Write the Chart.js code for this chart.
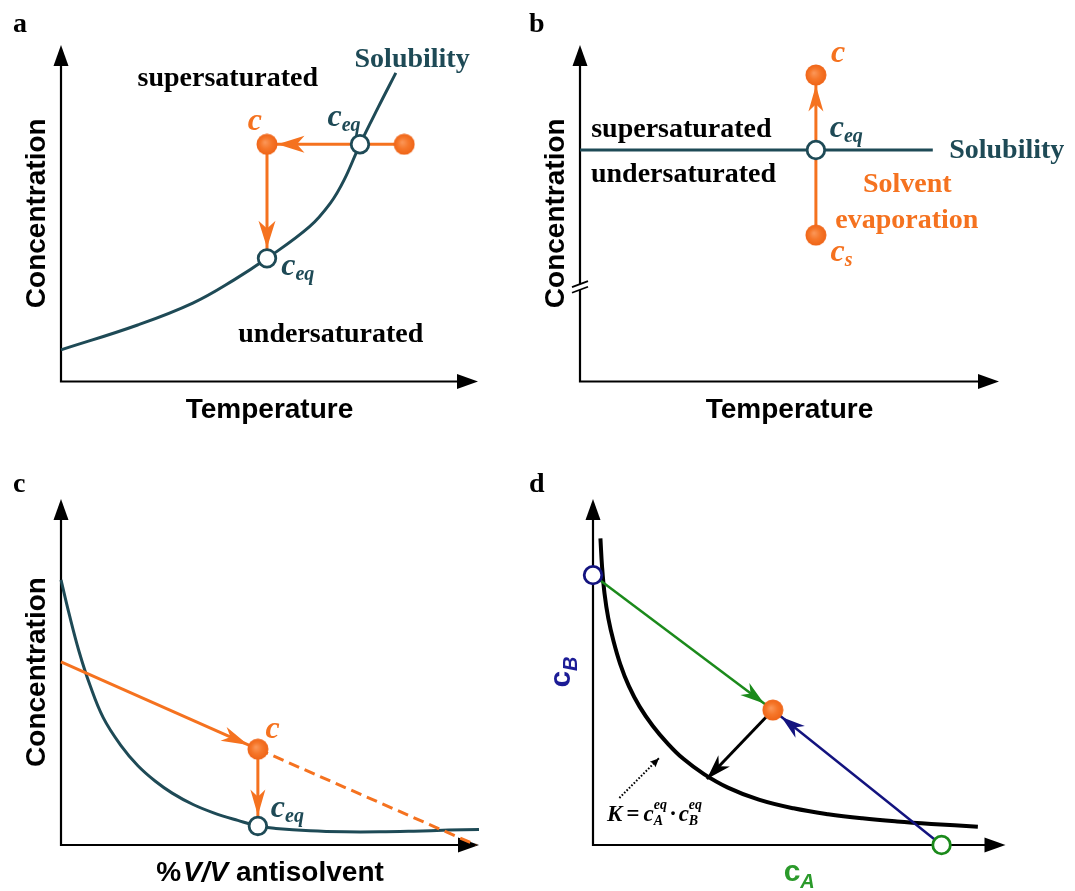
<!DOCTYPE html>
<html>
<head>
<meta charset="utf-8">
<script src="https://cdn.jsdelivr.net/npm/chart.js@4.4.1/dist/chart.umd.min.js"></script>
<style>
  html, body { margin: 0; padding: 0; background: #fff; }
  #wrap { position: relative; width: 1075px; height: 891px; overflow: hidden; background: #fff; }
  #wrap canvas { position: absolute; left: 0; top: 0; }
</style>
</head>
<body>
<div id="wrap">
  <canvas id="panelA" width="1075" height="891"></canvas>
  <canvas id="panelB" width="1075" height="891"></canvas>
  <canvas id="panelC" width="1075" height="891"></canvas>
  <canvas id="panelD" width="1075" height="891"></canvas>
</div>
<script>
// ---------------- values (arbitrary units, 0-100 on each axis) ----------------

// a: cooling crystallisation, solubility rising with temperature
const tempA       = [0, 18.4, 31.6, 41.5, 49.4, 59.6, 64.6, 67.9, 71.7, 76.0, 80.3];
const solubilityA = [9.4, 16.8, 23.3, 30.2, 36.6, 46.0, 53.0, 59.9, 70.5, 81.3, 91.7];
const startA = [82.3, 70.5];   // solution before cooling
const coolA  = [49.4, 70.5];   // supersaturated state c
const eqHighA = [71.7, 70.5];  // c_eq at starting temperature
const eqLowA  = [49.4, 36.6];  // c_eq after cooling

// b: evaporation at constant temperature
const solubilityB = [[0, 68.8], [84.2, 68.8]];
const csB   = [56.3, 43.5];
const ceqB  = [56.3, 68.8];
const cB    = [56.3, 91.1];
const breakB = 28.1;           // y value of the axis break

// c: antisolvent addition
const antisolventC = [0, 1.9, 4.3, 6.9, 10.1, 14.3, 18.4, 22.5, 26.6, 31.6, 36.5, 42.3, 47.1, 51.4, 59.6, 67.9, 76.2, 84.4, 92.7, 100];
const solubilityC  = [76.6, 67.0, 56.0, 46.3, 36.8, 28.8, 22.9, 18.5, 15.0, 11.7, 9.3, 7.1, 5.5, 4.8, 4.1, 3.8, 3.8, 4.0, 4.3, 4.5];
const dilutionStartC = [0, 52.9];
const cC   = [47.1, 27.7];
const ceqC = [47.1, 5.5];
const dilutionEndC = [99.3, 0];

// d: reactive crystallisation, K = cA·cB
const cA_D = [1.8, 2.2, 2.8, 3.7, 5.0, 6.6, 8.7, 11.3, 14.5, 17.9, 21.9, 26.9, 32.7, 40.2, 48.6, 57.0, 65.3, 73.7, 82.0, 93.3];
const cB_D = [88.6, 80.4, 72.6, 65.6, 58.8, 52.3, 45.9, 40.0, 34.4, 29.6, 24.9, 20.5, 16.6, 13.1, 10.6, 8.9, 7.7, 6.8, 6.1, 5.3];
const feedB_D = [0, 78.0];     // pure B solution
const feedA_D = [84.5, 0];     // pure A solution
const mixD    = [43.6, 39.0];  // mixed, supersaturated
const relaxD  = [27.6, 19.1];  // towards the equilibrium curve
const noteFromD = [6.4, 13.6];
const noteToD   = [16.0, 25.1];

// ---------------- styles ----------------
const TEAL = '#1e4a56', ORANGE = '#f5721f', BLACK = '#000000';
const GREEN = '#1b8a1b', NAVY = '#13137f', GREEN_TXT = '#2b9a2b', NAVY_TXT = '#1c1c96';
const SERIF = '"Liberation Serif", "Times New Roman", serif';
const SANS = '"Liberation Sans", Arial, sans-serif';
const F_REGION = 'bold 28px ' + SERIF;
const F_C = 'italic bold 32px ' + SERIF;
const F_SUB = 'italic bold 20px ' + SERIF;
const F_AXIS = 'bold 28px ' + SANS;
const F_LETTER = 'bold 28px ' + SERIF;

const pt = p => ({ x: p[0], y: p[1] });
const zip = (xs, ys) => xs.map((x, i) => ({ x, y: ys[i] }));

// shaded orange marker
const sphere = (() => {
  const r = 10.5, s = 22, c = document.createElement('canvas');
  c.width = c.height = s;
  const g = c.getContext('2d');
  const grad = g.createRadialGradient(s / 2 - 2, s / 2 - 2, 0.5, s / 2, s / 2, r);
  grad.addColorStop(0, '#fb9556');
  grad.addColorStop(0.5, '#f6772a');
  grad.addColorStop(1, '#ef6417');
  g.fillStyle = grad;
  g.beginPath(); g.arc(s / 2, s / 2, r, 0, Math.PI * 2); g.fill();
  return c;
})();

// ---------------- dataset helpers ----------------
function curve(data, color, width) {
  return { data, showLine: true, borderColor: color, borderWidth: width, pointRadius: 0,
           tension: 0.4, clip: false, order: 3 };
}
function segment(data, color, width, dash) {
  return { data, showLine: true, borderColor: color, borderWidth: width, pointRadius: 0,
           borderDash: dash || [], borderCapStyle: 'butt', tension: 0, clip: false, order: 2 };
}
function arrow(from, to, color, width, head) {
  const s = segment([pt(from), pt(to)], color, width);
  s.arrow = Object.assign({ color, gap: 0, len: 27, w: 8, notch: 0.72 }, head || {});
  return s;
}
function dots(points) {
  return { data: points.map(pt), showLine: false, pointStyle: sphere, pointRadius: 10.5,
           clip: false, order: 0 };
}
function rings(points, color) {
  return { data: points.map(pt), showLine: false, pointStyle: 'circle', pointRadius: 8.8,
           pointBorderWidth: 2.8, pointBorderColor: color, pointBackgroundColor: '#ffffff',
           clip: false, order: 0 };
}

// ---------------- drawing helpers ----------------
function arrowHead(ctx, tx, ty, ux, uy, len, w, notch, color) {
  const nx = -uy, ny = ux;
  const bx = tx - ux * len, by = ty - uy * len;
  ctx.save();
  ctx.fillStyle = color;
  ctx.beginPath();
  ctx.moveTo(tx, ty);
  ctx.lineTo(bx + nx * w, by + ny * w);
  ctx.lineTo(tx - ux * len * notch, ty - uy * len * notch);
  ctx.lineTo(bx - nx * w, by - ny * w);
  ctx.closePath();
  ctx.fill();
  ctx.restore();
}

function layoutRuns(ctx, runs) {
  let pen = 0, start = 0, width = 0;
  const placed = [];
  for (const r of runs) {
    ctx.font = r.f;
    const w = ctx.measureText(r.t).width;
    if (r.stack) {
      placed.push({ r, x: start });
      width = Math.max(width, start + w);
      pen = width;
    } else {
      start = pen + (r.dx || 0);
      placed.push({ r, x: start });
      pen = start + w;
      width = pen;
    }
  }
  return { placed, width };
}

function drawRuns(ctx, runs, x, y, align, rot) {
  const { placed, width } = layoutRuns(ctx, runs);
  ctx.save();
  ctx.translate(x, y);
  if (rot) ctx.rotate(rot);
  ctx.textAlign = 'left';
  ctx.textBaseline = 'alphabetic';
  const x0 = align === 'center' ? -width / 2 : align === 'right' ? -width : 0;
  for (const p of placed) {
    ctx.font = p.r.f;
    ctx.fillStyle = p.r.c || BLACK;
    ctx.fillText(p.r.t, x0 + p.x, p.r.dy || 0);
  }
  ctx.restore();
}

// axes with arrow tips, optional break, text annotations and arrowheads
const schematic = {
  id: 'schematic',
  beforeDatasetsDraw(chart, args, opts) {
    const { ctx } = chart, xs = chart.scales.x, ys = chart.scales.y;
    const x0 = xs.getPixelForValue(xs.min), x1 = xs.getPixelForValue(xs.max);
    const y0 = ys.getPixelForValue(ys.min), y1 = ys.getPixelForValue(ys.max);
    ctx.save();
    ctx.strokeStyle = BLACK;
    ctx.lineWidth = 2.2;
    ctx.lineJoin = 'miter';
    ctx.beginPath();
    ctx.moveTo(x0, y1 + 12);
    ctx.lineTo(x0, y0);
    ctx.lineTo(x1 - 12, y0);
    ctx.stroke();
    arrowHead(ctx, x0, y1, 0, -1, 21, 7.5, 1, BLACK);
    arrowHead(ctx, x1, y0, 1, 0, 21, 7.5, 1, BLACK);
    if (opts.axisBreak != null) {
      const yb = ys.getPixelForValue(opts.axisBreak);
      ctx.strokeStyle = '#ffffff';
      ctx.lineWidth = 5;
      ctx.beginPath(); ctx.moveTo(x0, yb - 2.8); ctx.lineTo(x0, yb + 2.8); ctx.stroke();
      ctx.strokeStyle = BLACK;
      ctx.lineWidth = 1.8;
      for (const c of [yb - 2.8, yb + 2.8]) {
        ctx.beginPath(); ctx.moveTo(x0 - 8, c + 3); ctx.lineTo(x0 + 8, c - 3); ctx.stroke();
      }
    }
    ctx.restore();
  },
  afterDatasetDraw(chart, args) {
    const ds = chart.data.datasets[args.index];
    if (!ds.arrow) return;
    const els = args.meta.data;
    const p0 = els[els.length - 2], p1 = els[els.length - 1];
    const dx = p1.x - p0.x, dy = p1.y - p0.y, d = Math.hypot(dx, dy);
    const ux = dx / d, uy = dy / d, a = ds.arrow;
    arrowHead(chart.ctx, p1.x - ux * a.gap, p1.y - uy * a.gap, ux, uy, a.len, a.w, a.notch, a.color);
  },
  afterDraw(chart, args, opts) {
    const { ctx } = chart, xs = chart.scales.x, ys = chart.scales.y;
    for (const l of opts.labels || []) {
      drawRuns(ctx, l.runs, xs.getPixelForValue(l.x), ys.getPixelForValue(l.y), l.align || 'left');
    }
    const cx = (xs.getPixelForValue(xs.min) + xs.getPixelForValue(xs.max)) / 2;
    const cy = (ys.getPixelForValue(ys.min) + ys.getPixelForValue(ys.max)) / 2;
    if (opts.xTitle) drawRuns(ctx, opts.xTitle, cx, ys.getPixelForValue(ys.min) + (opts.xTitleGap || 36), 'center');
    if (opts.yTitle) drawRuns(ctx, opts.yTitle, xs.getPixelForValue(xs.min) - (opts.yTitleGap || 16), cy, 'center', -Math.PI / 2);
    if (opts.letter) drawRuns(ctx, [{ t: opts.letter.t, f: F_LETTER }], opts.letter.x, opts.letter.y, 'left');
  }
};

function makePanel(id, area, datasets, annot) {
  return new Chart(document.getElementById(id), {
    type: 'scatter',
    data: { datasets },
    options: {
      responsive: false,
      animation: false,
      devicePixelRatio: 1,
      events: [],
      layout: { padding: { left: area[0], top: area[1], right: 1075 - area[2], bottom: 891 - area[3] } },
      scales: {
        x: { type: 'linear', display: false, min: 0, max: 100 },
        y: { type: 'linear', display: false, min: 0, max: 100 }
      },
      plugins: { legend: { display: false }, tooltip: { enabled: false }, schematic: annot }
    },
    plugins: [schematic]
  });
}

const ceq = (color) => [{ t: 'c', f: F_C, c: color }, { t: 'eq', f: F_SUB, c: color, dy: 5 }];
const region = (t, color) => [{ t, f: F_REGION, c: color || BLACK }];
const concentration = [{ t: 'Concentration', f: F_AXIS }];
const temperature = [{ t: 'Temperature', f: F_AXIS }];
const orangeHead = { gap: 10.5, len: 27, w: 8.5, notch: 0.72 };

// ---------------- panel a ----------------
makePanel('panelA', [61, 45, 478, 381.5], [
  dots([coolA, startA]),
  rings([eqHighA, eqLowA], TEAL),
  arrow(startA, coolA, ORANGE, 3, orangeHead),
  arrow(coolA, eqLowA, ORANGE, 3, orangeHead),
  curve(zip(tempA, solubilityA), TEAL, 3)
], {
  letter: { t: 'a', x: 13, y: 32 },
  xTitle: temperature, yTitle: concentration,
  labels: [
    { x: 40.0, y: 87.8, align: 'center', runs: region('supersaturated') },
    { x: 64.7, y: 11.8, align: 'center', runs: region('undersaturated') },
    { x: 84.2, y: 93.6, align: 'center', runs: region('Solubility', TEAL) },
    { x: 44.8, y: 74.7, runs: [{ t: 'c', f: F_C, c: ORANGE }] },
    { x: 63.9, y: 75.9, runs: ceq(TEAL) },
    { x: 52.8, y: 31.6, runs: ceq(TEAL) }
  ]
});

// ---------------- panel b ----------------
makePanel('panelB', [580, 45, 999, 381.5], [
  dots([cB, csB]),
  rings([ceqB], TEAL),
  arrow(csB, cB, ORANGE, 3, { gap: 10.5, len: 26, w: 7.5, notch: 0.72 }),
  segment(solubilityB.map(pt), TEAL, 3)
], {
  letter: { t: 'b', x: 529, y: 32 },
  axisBreak: breakB,
  xTitle: temperature, yTitle: concentration,
  labels: [
    { x: 24.2, y: 72.6, align: 'center', runs: region('supersaturated') },
    { x: 24.7, y: 59.4, align: 'center', runs: region('undersaturated') },
    { x: 88.1, y: 66.3, runs: region('Solubility', TEAL) },
    { x: 78.1, y: 56.4, align: 'center', runs: region('Solvent', ORANGE) },
    { x: 78.0, y: 45.5, align: 'center', runs: region('evaporation', ORANGE) },
    { x: 59.9, y: 95.0, runs: [{ t: 'c', f: F_C, c: ORANGE }] },
    { x: 59.6, y: 72.7, runs: ceq(TEAL) },
    { x: 59.8, y: 35.8, runs: [{ t: 'c', f: F_C, c: ORANGE }, { t: 's', f: F_SUB, c: ORANGE, dy: 5 }] }
  ]
});

// ---------------- panel c ----------------
makePanel('panelC', [61, 499, 479, 845], [
  dots([cC]),
  rings([ceqC], TEAL),
  arrow(dilutionStartC, cC, ORANGE, 3, { gap: 10.5, len: 27, w: 7.5, notch: 0.72 }),
  arrow(cC, ceqC, ORANGE, 3, { gap: 10.5, len: 26, w: 7.5, notch: 0.72 }),
  segment([pt(cC), pt(dilutionEndC)], ORANGE, 3, [11, 6]),
  curve(zip(antisolventC, solubilityC), TEAL, 3)
], {
  letter: { t: 'c', x: 13, y: 492 },
  xTitle: [{ t: '%', f: F_AXIS }, { t: 'V/V', f: 'italic ' + F_AXIS, dx: 2 }, { t: ' antisolvent', f: F_AXIS }],
  yTitle: concentration,
  labels: [
    { x: 48.9, y: 30.8, runs: [{ t: 'c', f: F_C, c: ORANGE }] },
    { x: 50.2, y: 8.2, runs: ceq(TEAL) }
  ]
});

// ---------------- panel d ----------------
const F_K = 'italic bold 23px ' + SERIF, F_KS = 'italic bold 14px ' + SERIF;
makePanel('panelD', [593, 499, 1005.5, 845], [
  dots([mixD]),
  rings([feedB_D], NAVY),
  rings([feedA_D], GREEN),
  arrow(feedB_D, mixD, GREEN, 2.5, { gap: 11, len: 24, w: 7.5, notch: 0.7 }),
  arrow(feedA_D, mixD, NAVY, 2.5, { gap: 11, len: 24, w: 7.5, notch: 0.7 }),
  arrow(mixD, relaxD, BLACK, 3, { gap: 0, len: 25, w: 8, notch: 0.7 }),
  Object.assign(arrow(noteFromD, noteToD, BLACK, 2, { gap: 0, len: 9, w: 4, notch: 0.85 }), { borderDash: [1.6, 1.8] }),
  curve(zip(cA_D, cB_D), BLACK, 4)
], {
  letter: { t: 'd', x: 529, y: 492 },
  xTitle: [{ t: 'c', f: 'bold 30px ' + SANS, c: GREEN_TXT }, { t: 'A', f: 'italic bold 20px ' + SANS, c: GREEN_TXT, dy: 7 }],
  yTitle: [{ t: 'c', f: 'bold 30px ' + SANS, c: NAVY_TXT }, { t: 'B', f: 'italic bold 20px ' + SANS, c: NAVY_TXT, dy: 7 }],
  yTitleGap: 23,
  labels: [
    { x: 3.4, y: 7.0, runs: [
      { t: 'K', f: F_K }, { t: '=', f: F_K, dx: 4 }, { t: 'c', f: F_K, dx: 4 },
      { t: 'eq', f: F_KS, dy: -12 }, { t: 'A', f: F_KS, dy: 4, stack: true },
      { t: '·', f: F_K, dx: 3 }, { t: 'c', f: F_K, dx: 3 },
      { t: 'eq', f: F_KS, dy: -12 }, { t: 'B', f: F_KS, dy: 4, stack: true }
    ] }
  ]
});
</script>
</body>
</html>
